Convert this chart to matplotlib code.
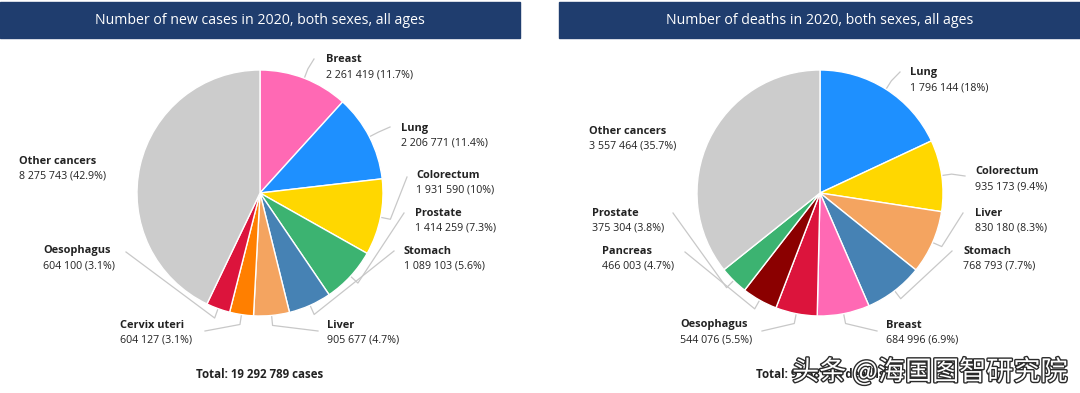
import numpy as np
import matplotlib
matplotlib.use("Agg")
import matplotlib.pyplot as plt
from matplotlib.patches import Rectangle
import matplotlib.patheffects as pe

W, H = 1080, 393

# data
case_sites = ["Breast", "Lung", "Colorectum", "Prostate", "Stomach", "Liver",
              "Cervix uteri", "Oesophagus", "Other cancers"]
case_values = [2261419, 2206771, 1931590, 1414259, 1089103, 905677,
               604127, 604100, 8275743]
death_sites = ["Lung", "Colorectum", "Liver", "Stomach", "Breast", "Oesophagus",
               "Pancreas", "Prostate", "Other cancers"]
death_values = [1796144, 935173, 830180, 768793, 684996, 544076,
                466003, 375304, 3557464]

site_colors = {
    "Breast": "#FF69B4", "Lung": "#1E90FF", "Colorectum": "#FFD700",
    "Prostate": "#3CB371", "Stomach": "#4682B4", "Liver": "#F4A460",
    "Cervix uteri": "#FF7F00", "Oesophagus": "#DC143C", "Pancreas": "#8B0000",
    "Other cancers": "#CCCCCC",
}

# layout (pixels, y from top): label text x, name-line y, leader anchor
case_labels = {
    "Breast": (326, 60, (314, 59)),
    "Lung": (401, 128, (390, 127)),
    "Colorectum": (416, 175, (407, 177)),
    "Prostate": (415, 213, (404, 213)),
    "Stomach": (404, 251, (394, 251)),
    "Liver": (327, 325, (318, 331)),
    "Cervix uteri": (120, 325, (205, 331)),
    "Oesophagus": (43, 251, (126, 252)),
    "Other cancers": (19, 161, None),
}
death_labels = {
    "Lung": (910, 73, (900, 72)),
    "Colorectum": (975, 172, (965, 176)),
    "Liver": (975, 213, (963, 213)),
    "Stomach": (963, 251, (952, 251)),
    "Breast": (886, 325, (877, 331)),
    "Oesophagus": (680, 325, (762, 331)),
    "Pancreas": (602, 251, (685, 252)),
    "Prostate": (592, 213, (673, 213)),
    "Other cancers": (589, 131, None),
}

FONT = "Open Sans"
TXT = "#222222"
NAVY = "#1F3D6E"


def fmt_num(v):
    return f"{v:,}".replace(",", " ")


def fmt_pct(p):
    s = f"{p:.1f}"
    if s.endswith(".0"):
        s = s[:-2]
    return s + "%"


def draw_chart(ax, sites, values, labels, cx, cy, r, title, bx0, bx1, total_word):
    Y = lambda y: H - y
    # title banner
    ax.add_patch(Rectangle((bx0, Y(38)), bx1 - bx0, 36, color=NAVY, zorder=1))
    ax.text((bx0 + bx1) / 2, Y(20), title, color="white", fontsize=10.2,
            family=FONT, ha="center", va="center", zorder=2)

    colors = [site_colors[s] for s in sites]
    wedges, _ = ax.pie(values, colors=colors, startangle=90, counterclock=False,
                       center=(cx, Y(cy)), radius=r,
                       wedgeprops=dict(edgecolor="white", linewidth=1.0))
    total = sum(values)
    for w, site, v in zip(wedges, sites, values):
        tx, ty, anchor = labels[site]
        ax.text(tx, Y(ty), site, fontsize=7.9, fontweight="bold", family=FONT,
                color=TXT, ha="left", va="center")
        ax.text(tx, Y(ty + 15), f"{fmt_num(v)} ({fmt_pct(v / total * 100)})",
                fontsize=7.7, family=FONT, color=TXT, ha="left", va="center")
        if anchor is None:
            continue
        ang = np.deg2rad((w.theta1 + w.theta2) / 2)
        p0 = (cx + (r + 1) * np.cos(ang), Y(cy) + (r + 1) * np.sin(ang))
        p1 = (cx + (r + 10) * np.cos(ang), Y(cy) + (r + 10) * np.sin(ang))
        p2 = (anchor[0], Y(anchor[1]))
        ax.plot([p0[0], p1[0], p2[0]], [p0[1], p1[1], p2[1]],
                color="#C8C8C8", lw=0.9, solid_joinstyle="round", zorder=0)

    ax.text(cx, Y(374), f"Total: {fmt_num(total)} {total_word}", fontsize=8.3,
            fontweight="bold", family=FONT, color=TXT, ha="center", va="center")


fig = plt.figure(figsize=(W / 100, H / 100), dpi=100)
ax = fig.add_axes([0, 0, 1, 1])

draw_chart(ax, case_sites, case_values, case_labels, 260, 193, 123,
           "Number of new cases in 2020, both sexes, all ages", 0, 520, "cases")
draw_chart(ax, death_sites, death_values, death_labels, 820, 193, 123,
           "Number of deaths in 2020, both sexes, all ages", 559, 1080, "deaths")

# watermark
ax.text(1068, H - 372, "头条 @海国图智研究院", fontsize=19.5, color="white",
        family=["Noto Sans CJK SC", "DejaVu Sans"], ha="right", va="center",
        path_effects=[pe.withStroke(linewidth=2.0, foreground="#2A2A2A")], zorder=5)

ax.set_xlim(0, W)
ax.set_ylim(0, H)
ax.set_aspect("auto")
ax.axis("off")

fig.savefig("out.png", dpi=100)
